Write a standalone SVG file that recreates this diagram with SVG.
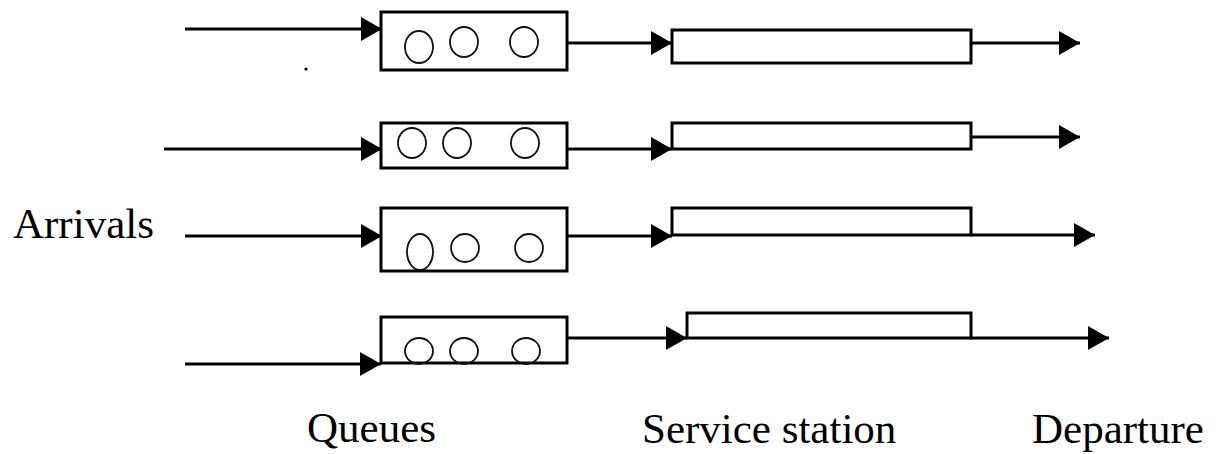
<svg xmlns="http://www.w3.org/2000/svg" width="1219" height="454" viewBox="0 0 1219 454">
<style>
.box{fill:#fff;stroke:#000;stroke-width:3}
.cust{fill:none;stroke:#111;stroke-width:1.8}
.conn{fill:none;stroke:#000;stroke-width:2.8}
.lbl{font-family:"Liberation Serif","Times New Roman",serif;font-size:43px;fill:#000}
</style>
<defs>
<marker id="ah" markerUnits="userSpaceOnUse" markerWidth="22" markerHeight="24" refX="21" refY="12" orient="auto">
<path d="M0,0 L21,12 L0,24 z" fill="#000"/>
</marker>
</defs>
<g id="connectors">
<path class="conn" d="M185,29 L382,29" stroke-width="4" marker-end="url(#ah)"/>
<path class="conn" d="M567,43 L672,43" marker-end="url(#ah)"/>
<path class="conn" d="M971,43 L1080,43" marker-end="url(#ah)"/>
<path class="conn" d="M164,149 L382,149" marker-end="url(#ah)"/>
<path class="conn" d="M567,149 L672,149" marker-end="url(#ah)"/>
<path class="conn" d="M971,137 L1080,137" marker-end="url(#ah)"/>
<path class="conn" d="M185,236 L382,236" marker-end="url(#ah)"/>
<path class="conn" d="M567,236 L672,236" marker-end="url(#ah)"/>
<path class="conn" d="M971,235 L1095,235" marker-end="url(#ah)"/>
<path class="conn" d="M185,364 L381,364" marker-end="url(#ah)"/>
<path class="conn" d="M567,338 L687,338" marker-end="url(#ah)"/>
<path class="conn" d="M971,338 L1109,338" marker-end="url(#ah)"/>
</g>
<g id="queue1">
<rect class="box" x="381" y="12" width="186" height="58"/>
<ellipse class="cust" cx="419" cy="47" rx="14" ry="16"/>
<ellipse class="cust" cx="464" cy="42" rx="14" ry="15"/>
<ellipse class="cust" cx="524" cy="42" rx="14" ry="15"/>
</g>
<g id="queue2">
<rect class="box" x="381" y="123" width="186" height="45"/>
<ellipse class="cust" cx="412" cy="143" rx="14" ry="15"/>
<ellipse class="cust" cx="457" cy="143" rx="14" ry="15"/>
<ellipse class="cust" cx="525" cy="143" rx="14" ry="15"/>
</g>
<g id="queue3">
<rect class="box" x="381" y="208" width="186" height="63"/>
<ellipse class="cust" cx="420" cy="252" rx="13" ry="18"/>
<ellipse class="cust" cx="465" cy="248" rx="14" ry="14"/>
<ellipse class="cust" cx="529" cy="248" rx="14" ry="14"/>
</g>
<g id="queue4">
<rect class="box" x="381" y="317" width="186" height="46"/>
<ellipse class="cust" cx="419" cy="351" rx="14" ry="13"/>
<ellipse class="cust" cx="464" cy="351" rx="14" ry="13"/>
<ellipse class="cust" cx="526" cy="351" rx="14" ry="13"/>
</g>
<g id="service1"><rect class="box" x="672" y="30" width="299" height="33"/></g>
<g id="service2"><rect class="box" x="672" y="123" width="299" height="26"/></g>
<g id="service3"><rect class="box" x="672" y="208" width="299" height="27"/></g>
<g id="service4"><rect class="box" x="687" y="313" width="284" height="25"/></g>
<circle cx="306" cy="69" r="1.6" fill="#000"/>
<g id="labels">
<text class="lbl" x="13" y="238">Arrivals</text>
<text class="lbl" x="307" y="442">Queues</text>
<text class="lbl" x="642" y="443">Service station</text>
<text class="lbl" x="1032" y="443">Departure</text>
</g>
</svg>
